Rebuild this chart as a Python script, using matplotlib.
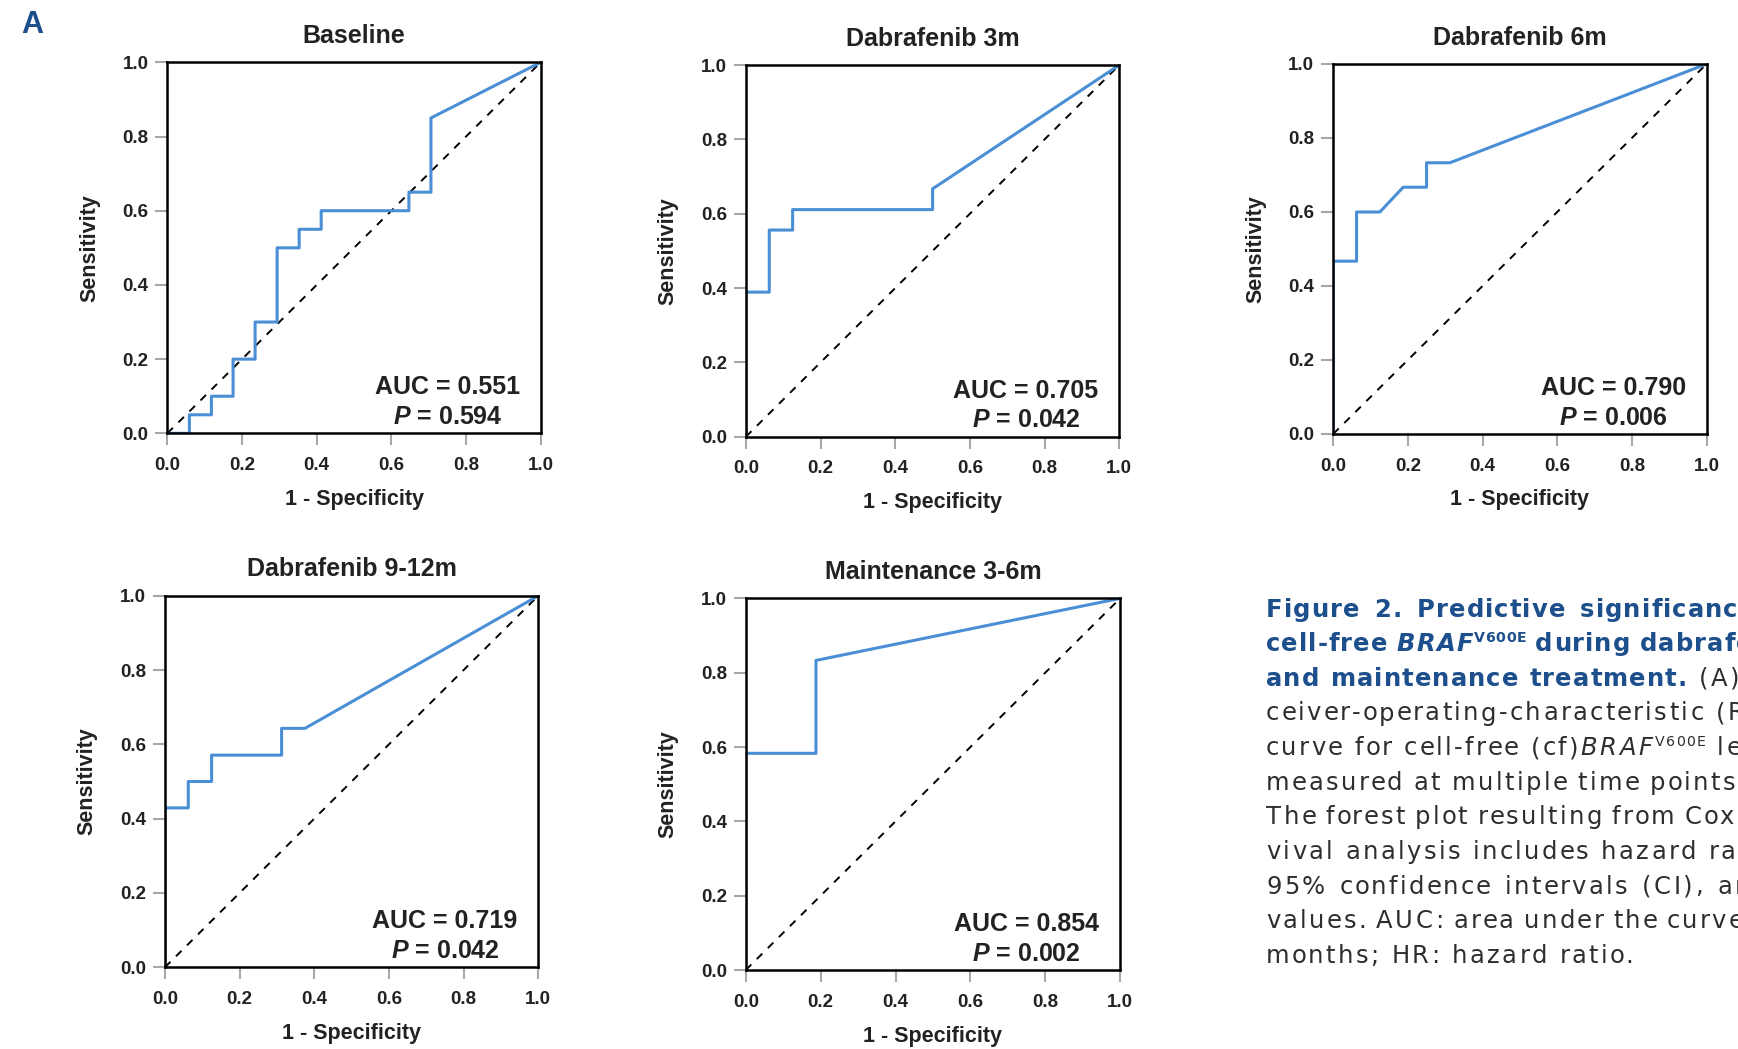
import matplotlib
matplotlib.use('Agg')
import matplotlib.pyplot as plt

plt.rcParams['font.family'] = ['Liberation Sans', 'DejaVu Sans']
plt.rcParams['mathtext.fontset'] = 'custom'
plt.rcParams['mathtext.it'] = 'Liberation Sans:italic:bold'
plt.rcParams['mathtext.rm'] = 'Liberation Sans:bold'

# ---- data ----
titles = ['Baseline', 'Dabrafenib 3m', 'Dabrafenib 6m', 'Dabrafenib 9-12m', 'Maintenance 3-6m']
auc_vals = ['0.551', '0.705', '0.790', '0.719', '0.854']
p_vals = ['0.594', '0.042', '0.006', '0.042', '0.002']

fpr_base = [0, 0.059, 0.059, 0.118, 0.118, 0.176, 0.176, 0.235, 0.235, 0.294, 0.294,
            0.353, 0.353, 0.412, 0.412, 0.647, 0.647, 0.706, 0.706, 1.0]
tpr_base = [0, 0, 0.05, 0.05, 0.10, 0.10, 0.20, 0.20, 0.30, 0.30, 0.50,
            0.50, 0.55, 0.55, 0.60, 0.60, 0.65, 0.65, 0.85, 1.0]

fpr_3m = [0, 0, 0.0625, 0.0625, 0.125, 0.125, 0.5, 0.5, 1.0]
tpr_3m = [0, 0.389, 0.389, 0.556, 0.556, 0.611, 0.611, 0.667, 1.0]

fpr_6m = [0, 0, 0.0625, 0.0625, 0.125, 0.1875, 0.25, 0.25, 0.3125, 1.0]
tpr_6m = [0, 0.467, 0.467, 0.600, 0.600, 0.667, 0.667, 0.733, 0.733, 1.0]

fpr_9m = [0, 0, 0.0625, 0.0625, 0.125, 0.125, 0.3125, 0.3125, 0.375, 1.0]
tpr_9m = [0, 0.429, 0.429, 0.500, 0.500, 0.571, 0.571, 0.643, 0.643, 1.0]

fpr_maint = [0, 0, 0.1875, 0.1875, 1.0]
tpr_maint = [0, 0.583, 0.583, 0.833, 1.0]

curves = [(fpr_base, tpr_base), (fpr_3m, tpr_3m), (fpr_6m, tpr_6m),
          (fpr_9m, tpr_9m), (fpr_maint, tpr_maint)]

ticks = [0.0, 0.2, 0.4, 0.6, 0.8, 1.0]
tick_labels = ['0.0', '0.2', '0.4', '0.6', '0.8', '1.0']

# axes rectangles (figure fractions)
rects = [[0.0963, 0.5869, 0.2148, 0.3537],
         [0.4292, 0.5837, 0.2148, 0.3543],
         [0.7671, 0.5863, 0.2148, 0.3527],
         [0.0949, 0.0779, 0.2148, 0.3542],
         [0.4291, 0.0753, 0.2154, 0.3543]]

BLUE = '#4a8fd6'
DARK = '#222222'
NAVY = '#1c4f8c'

fig = plt.figure(figsize=(17.38, 10.49), dpi=100)

for i in range(5):
    ax = fig.add_axes(rects[i])
    fpr, tpr = curves[i]
    ax.plot([0, 1], [0, 1], color='black', lw=1.4, ls=(0, (4, 4)))
    ax.plot(fpr, tpr, color=BLUE, lw=2.2)
    ax.set_xlim(0, 1)
    ax.set_ylim(0, 1)
    ax.set_xticks(ticks)
    ax.set_yticks(ticks)
    ax.set_xticklabels(tick_labels, fontsize=13.5, fontweight='bold', color=DARK)
    ax.set_yticklabels(tick_labels, fontsize=13.5, fontweight='bold', color=DARK)
    ax.tick_params(axis='both', length=8.6, width=1.5, color='#a8a8a8')
    ax.tick_params(axis='x', pad=8.5)
    ax.tick_params(axis='y', pad=5)
    for sp in ax.spines.values():
        sp.set_linewidth(1.8)
        sp.set_color('black')
    ax.set_title(titles[i], fontsize=18, fontweight='bold', color=DARK, pad=14)
    ax.set_xlabel('1 - Specificity', fontsize=15.5, fontweight='bold', color=DARK)
    ax.set_ylabel('Sensitivity', fontsize=15.5, fontweight='bold', color=DARK)
    ax.xaxis.set_label_coords(0.5, -0.15)
    ax.yaxis.set_label_coords(-0.18, 0.5)
    ax.text(0.75, 0.105, 'AUC = ' + auc_vals[i], transform=ax.transAxes,
            ha='center', va='baseline', fontsize=18, fontweight='bold', color=DARK)
    ax.text(0.75, 0.025, r'$P$ = ' + p_vals[i], transform=ax.transAxes,
            ha='center', va='baseline', fontsize=18, fontweight='bold', color=DARK)

fig.text(0.0125, 0.969, 'A', fontsize=22, fontweight='bold', color=NAVY,
         ha='left', va='baseline')

# ---- caption: drawn char by char so letter spacing / justification can be matched ----
renderer = fig.canvas.get_renderer()
W = fig.get_figwidth() * fig.dpi
H = fig.get_figheight() * fig.dpi
CAP_FONT = 'DejaVu Sans'
CAP_SIZE = 17.5
GREY = '#2e2e2e'


def style_kw(style):
    kw = dict(fontfamily=CAP_FONT, fontsize=CAP_SIZE, color=GREY)
    if 'b' in style:
        kw['fontweight'] = 'bold'
        kw['color'] = NAVY
    if 'i' in style:
        kw['fontstyle'] = 'italic'
    if 's' in style:
        kw['fontsize'] = CAP_SIZE * 0.58
    return kw


def text_w(s, kw):
    t = fig.text(0, 0, s, **kw)
    w = t.get_window_extent(renderer).width
    t.remove()
    return w


adv_cache = {}


def adv(c, style):
    key = (c, style)
    if key not in adv_cache:
        kw = style_kw(style)
        adv_cache[key] = text_w('x' + c + 'x', kw) - text_w('xx', kw)
    return adv_cache[key]


track = {}


def step(c, st):
    return adv(c, st) + track.get(st.replace('s', ''), 0) * (0.58 if 's' in st else 1)


def chars_of(parts):
    out = []
    for s, style in parts:
        for c in s:
            out.append((c, style))
    return out


def natural(parts):
    return sum(step(c, st) for c, st in chars_of(parts))


def rich_line(x0, base, parts, width=None):
    chars = chars_of(parts)
    n_sp = sum(1 for c, _ in chars if c == ' ')
    extra = 0
    if width is not None and n_sp:
        extra = max((width - natural(parts)) / n_sp, -3)
    x = x0
    for c, st in chars:
        if x > W:
            break
        yy = base - 9 if 's' in st else base
        if c != ' ':
            fig.text(x / W, 1 - yy / H, c, ha='left', va='baseline', **style_kw(st))
        x += step(c, st)
        if c == ' ':
            x += extra


cap_lines = [
    [('Figure 2. Predictive significance of', 'b')],
    [('cell-free ', 'b'), ('BRAF', 'bi'), ('V600E', 'bs'), (' during dabrafenib', 'b')],
    [('and maintenance treatment.', 'b'), (' (A) Re-', '')],
    [('ceiver-operating-characteristic (ROC)', '')],
    [('curve for cell-free (cf)', ''), ('BRAF', 'i'), ('V600E', 's'), (' levels', '')],
    [('measured at multiple time points. (B)', '')],
    [('The forest plot resulting from Cox sur-', '')],
    [('vival analysis includes hazard ratios,', '')],
    [('95% confidence intervals (CI), and ', ''), ('P', 'i')],
    [('values. AUC: area under the curve; m:', '')],
    [('months; HR: hazard ratio.', '')],
]

# letter spacing tuned so two reference lines get their measured widths
body_ref = [('months; HR: hazard ratio.', '')]
head_ref = [('and maintenance treatment.', 'b')]
track[''] = (367 - natural(body_ref)) / (len(body_ref[0][0]) - 1)
track['b'] = (419 - natural(head_ref)) / (len(head_ref[0][0]) - 1)
track['i'] = track['']
track['bi'] = track['b']

col_w = natural(cap_lines[3])

cap_x = 1266
cap_y0 = 616.7
cap_step = 34.6
for k, parts in enumerate(cap_lines):
    last = k == len(cap_lines) - 1
    rich_line(cap_x, cap_y0 + k * cap_step, parts, None if last else col_w)

fig.savefig('out.png', dpi=100)
